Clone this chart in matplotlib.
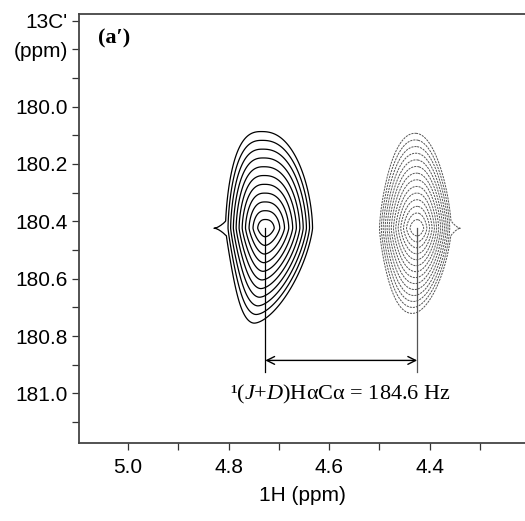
import numpy as np
import matplotlib
matplotlib.use("Agg")
import matplotlib.pyplot as plt

plt.rcParams['mathtext.fontset'] = 'custom'
plt.rcParams['mathtext.rm'] = 'Liberation Serif'
plt.rcParams['mathtext.it'] = 'Liberation Serif:italic'

# ---- data ----
peak_h = [4.727, 4.425]            # 1H centre (ppm)
peak_c = [180.424, 180.424]        # 13C' centre (ppm)
half_left = [0.079, 0.075]         # half width toward larger 1H ppm
half_right = [0.094, 0.068]        # half width toward smaller 1H ppm
half_up = [0.337, 0.331]           # half height toward smaller 13C ppm
half_down = [0.331, 0.297]         # half height toward larger 13C ppm
shape_up = [1.7, 1.45]             # superellipse exponent, upper half
shape_down = [1.25, 1.4]           # superellipse exponent, lower half
bend_up = [0.008, 0.004]
bend_down = [0.022, 0.01]
spike_len = [0.103, 0.087]         # outer ridge length
spike_side = [1, -1]               # +1: ridge to the left, -1: to the right
n_levels = [11, 14]
line_colors = ['black', '#555555']
line_styles = ['solid', (0, (2.2, 1.0))]
line_widths = [0.9, 0.7]

coupling_text = "¹($J$+$D$)HαCα = 184.6 Hz"
panel_label = "(a′)"
ytick_vals = [179.7, 179.8, 180.0, 180.2, 180.4, 180.6, 180.8, 181.0]
ytick_labels = ["13C'", "(ppm)", "180.0", "180.2", "180.4", "180.6", "180.8", "181.0"]
yminor_vals = [179.9, 180.1, 180.3, 180.5, 180.7, 180.9, 181.1]
xtick_vals = [5.0, 4.8, 4.6, 4.4]
xminor_vals = [4.9, 4.7, 4.5, 4.3]
arrow_y = 180.885
line_end_y = 180.927

fig = plt.figure(figsize=(5.25, 5.21), dpi=100)
ax = fig.add_axes([79/525, 1-443/521, 1-79/525, (443-14)/521])
ax.set_xlim(5.0972, 4.2107)
ax.set_ylim(181.173, 179.677)

xs = np.linspace(4.2, 5.1, 900)
ys = np.linspace(179.65, 181.2, 900)
X, Y = np.meshgrid(xs, ys)

for i in range(2):
    cx, cy = peak_h[i], peak_c[i]
    dy = Y - cy
    up = dy < 0
    wy = np.where(up, half_up[i], half_down[i])
    v = np.abs(dy / wy)
    b = np.where(up, bend_up[i], bend_down[i])
    dx = X - (cx + b * v**2)
    wx = np.where(dx > 0, half_left[i], half_right[i])
    u = np.abs(dx / wx) ** 1.45
    p = np.where(up, shape_up[i], shape_down[i])
    r = (u**p + v**p) ** (1/p)
    # thin ridge on the outer side of the lowest contour
    s = spike_side[i]
    sdx = s * (X - cx)
    L = spike_len[i]
    edge = half_left[i] if s > 0 else half_right[i]
    t = np.clip((L - sdx) / (L - edge), 0, None)
    r_sp = 1 - np.minimum(t, 1.0) ** 0.5 + np.abs(dy) / 0.024 / np.maximum(t, 0.05) ** 1.2
    r_sp = np.where(sdx > 0, np.maximum(r_sp, 0.97), np.inf)
    r = np.minimum(r, r_sp)
    levels = np.linspace(0.09, 1.0, n_levels[i])
    ax.contour(X, Y, r, levels=levels, colors=line_colors[i],
               linestyles=[line_styles[i]], linewidths=line_widths[i])
    ax.plot([cx, cx], [cy, line_end_y], color=line_colors[i], lw=0.9)

ax.annotate('', xy=(peak_h[1], arrow_y), xytext=(peak_h[0], arrow_y),
            arrowprops=dict(arrowstyle='<->', lw=1.0, color='black',
                            shrinkA=0, shrinkB=0, mutation_scale=14))
ax.text(4.578, 181.003, coupling_text, ha='center', va='center',
        fontsize=16, family='Liberation Serif')
ax.text(0.043, 0.942, panel_label, transform=ax.transAxes, ha='left', va='center',
        fontsize=16, family='Liberation Serif', fontweight='bold')

ax.set_yticks(ytick_vals)
ax.set_yticklabels(ytick_labels)
ax.set_yticks(yminor_vals, minor=True)
ax.set_xticks(xtick_vals)
ax.set_xticklabels([f"{v:.1f}" for v in xtick_vals])
ax.set_xticks(xminor_vals, minor=True)
for lab in ax.get_xticklabels() + ax.get_yticklabels():
    lab.set_family('Liberation Sans')
    lab.set_fontsize(15)
ax.tick_params(which='both', direction='out', length=5, width=0.9, color='#333333', pad=3)
ax.tick_params(axis='x', which='both', pad=6)
ax.set_xlabel("1H (ppm)", fontsize=15, family='Liberation Sans', labelpad=6)
ax.spines['right'].set_visible(False)
for side in ['left', 'top', 'bottom']:
    ax.spines[side].set_color('#444444')
    ax.spines[side].set_linewidth(1.3)

fig.savefig('out.png', dpi=100)
